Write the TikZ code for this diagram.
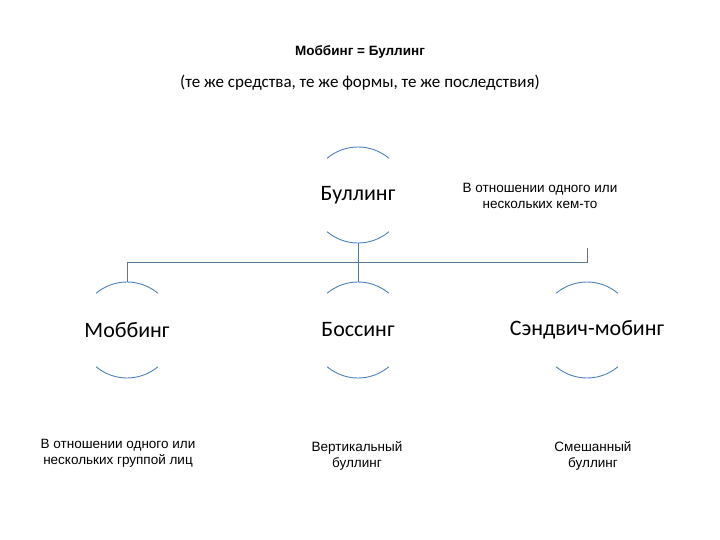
\documentclass[tikz,border=0pt]{standalone}
\usepackage{fontspec}
\setmainfont{Carlito}
\newfontfamily\arialf{Liberation Sans}
\begin{document}
\begin{tikzpicture}[x=1pt,y=-1pt,
  arcs/.style={draw=none},
  big/.style={font=\fontsize{22}{26}\selectfont},
  small/.style={font=\arialf\fontsize{13.5}{16}\selectfont,align=center},
  arcline/.style={draw={rgb,255:red,79;green,129;blue,189},line width=0.9pt},
  conn/.style={draw={rgb,255:red,90;green,120;blue,150},line width=0.8pt}]
\useasboundingbox (0,0) rectangle (720,540);
\node[font=\arialf\bfseries\fontsize{13.5}{16}\selectfont] (t1) at (360,52) {Моббинг = Буллинг};
\node[font=\fontsize{17}{20}\selectfont] (t2) at (360,83) {(те же средства, те же формы, те же последствия)};
\foreach \n/\x/\y/\t in {b/358/195/Буллинг, m/127/330/Моббинг, s/358/330/Боссинг, w/587/330/Сэндвич-мобинг}{
  \node[big,minimum size=96pt,circle] (\n) at (\x,\y) {\t};
  \draw[arcline] (\x,\y) ++(130:48) arc[start angle=130,end angle=50,radius=48];
  \draw[arcline] (\x,\y) ++(-130:48) arc[start angle=-130,end angle=-50,radius=48];
}
\coordinate (j) at (358,262);
\draw[conn] (b.south) -- (j);
\draw[conn] (j) -| (m.north);
\draw[conn] (j) -| (w.north);
\draw[conn] (j) -- (s.north);
\node[small] (nb) at (540,196) {В отношении одного или\\нескольких кем-то};
\node[small] (nm) at (118,453) {В отношении одного или\\нескольких группой лиц};
\node[small] (ns) at (357,456) {Вертикальный\\буллинг};
\node[small] (nw) at (593,456) {Смешанный\\буллинг};
\end{tikzpicture}
\end{document}
